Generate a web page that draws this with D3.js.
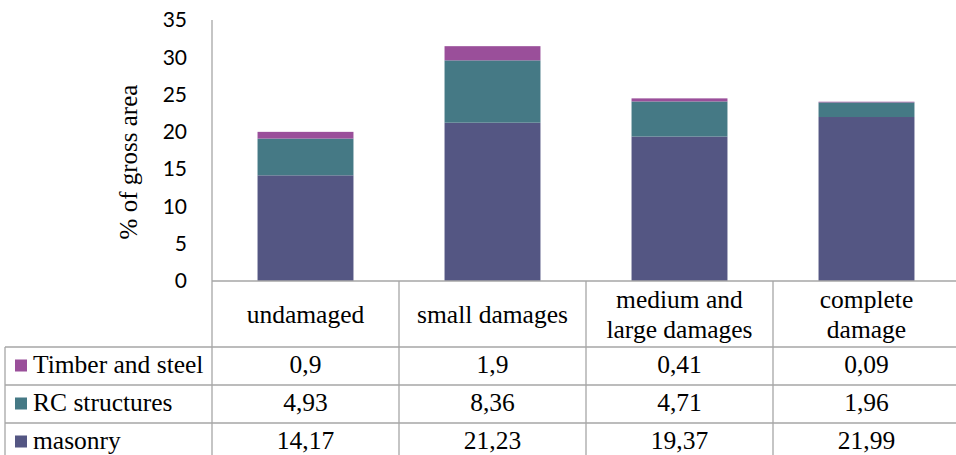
<!DOCTYPE html>
<html>
<head>
<meta charset="utf-8">
<script src="https://cdn.jsdelivr.net/npm/d3@7"></script>
<style>
  html, body { margin: 0; padding: 0; background: #fff; }
  svg { display: block; }
</style>
</head>
<body>
<svg id="chart" width="956" height="455"></svg>
<script>
// Share of gross area by damage level and structural type
const categories = ["undamaged", "small damages", "medium and large damages", "complete damage"];
const categoryLines = [["undamaged"], ["small damages"], ["medium and", "large damages"], ["complete", "damage"]];
const seriesNames = ["masonry", "RC structures", "Timber and steel"];
const masonry = [14.17, 21.23, 19.37, 21.99];
const rcStructures = [4.93, 8.36, 4.71, 1.96];
const timberSteel = [0.9, 1.9, 0.41, 0.09];
const tableLabels = [
  ["0,9", "1,9", "0,41", "0,09"],
  ["4,93", "8,36", "4,71", "1,96"],
  ["14,17", "21,23", "19,37", "21,99"]
];
const yTicks = [0, 5, 10, 15, 20, 25, 30, 35];
const colors = ["#545683", "#457985", "#9a4f9a"];

const svg = d3.select("#chart");
const plotLeft = 212, plotRight = 960, plotTop = 20, plotBase = 281;
const lineColor = "#a6a6a6";

const xCol = d3.scaleBand().domain(categories).range([plotLeft, plotRight]).padding(0);
const xBar = d3.scaleBand().domain(categories).range([plotLeft, plotRight])
  .paddingInner(0.487).paddingOuter(0.2435);
const y = d3.scaleLinear().domain([0, 35]).range([plotBase, plotTop]);

// stacked series
const rows = categories.map((c, i) => ({
  cat: c,
  "masonry": masonry[i],
  "RC structures": rcStructures[i],
  "Timber and steel": timberSteel[i]
}));
const stacked = d3.stack().keys(seriesNames)(rows);

svg.append("g").selectAll("g")
  .data(stacked)
  .join("g")
  .attr("fill", (d, i) => colors[i])
  .selectAll("rect")
  .data(d => d)
  .join("rect")
  .attr("x", d => xBar(d.data.cat))
  .attr("width", xBar.bandwidth())
  .attr("y", d => y(d[1]))
  .attr("height", d => y(d[0]) - y(d[1]));

// y axis
const yAxis = d3.axisLeft(y).tickValues(yTicks).tickSize(0).tickPadding(25);
const gy = svg.append("g").attr("transform", `translate(${plotLeft},0)`).call(yAxis);
gy.select(".domain").remove();
gy.selectAll("text")
  .attr("font-family", "Lato, 'Open Sans', sans-serif")
  .attr("font-size", 21)
  .attr("fill", "#000");

const serif = "'Liberation Serif', 'Times New Roman', serif";

svg.append("text")
  .attr("transform", `translate(137,162) rotate(-90)`)
  .attr("text-anchor", "middle")
  .attr("font-family", serif)
  .attr("font-size", 25)
  .attr("fill", "#000")
  .text("% of gross area");

// data table
const headerBottom = 347;
const rowH = 38;
const tableLeft = 5;
const tbl = svg.append("g").attr("stroke", lineColor).attr("stroke-width", 1.3).attr("fill", "none");

// axis line continues down as the table's first column border
tbl.append("line").attr("x1", plotLeft).attr("x2", plotLeft).attr("y1", plotTop).attr("y2", 455);
tbl.append("line").attr("x1", plotLeft).attr("x2", plotRight).attr("y1", plotBase).attr("y2", plotBase);
categories.slice(1).forEach(c => {
  tbl.append("line").attr("x1", xCol(c)).attr("x2", xCol(c)).attr("y1", plotBase).attr("y2", 455);
});
tbl.append("line").attr("x1", tableLeft).attr("x2", tableLeft).attr("y1", headerBottom).attr("y2", 455);
[0, 1, 2].forEach(r => {
  const yy = headerBottom + r * rowH;
  tbl.append("line").attr("x1", tableLeft).attr("x2", plotRight).attr("y1", yy).attr("y2", yy);
});

const fs = 25.5;

// header cells
categories.forEach((c, i) => {
  const lines = categoryLines[i];
  const cx = xCol(c) + xCol.bandwidth() / 2;
  const cy = (plotBase + headerBottom) / 2;
  const lh = 30;
  lines.forEach((t, k) => {
    svg.append("text")
      .attr("x", cx)
      .attr("y", cy + (k - (lines.length - 1) / 2) * lh)
      .attr("dy", "0.35em")
      .attr("text-anchor", "middle")
      .attr("font-family", serif)
      .attr("font-size", fs)
      .attr("fill", "#000")
      .text(t);
  });
});

// legend rows + values (top row is the top series)
const legendOrder = [2, 1, 0];
legendOrder.forEach((s, r) => {
  const cy = headerBottom + r * rowH + rowH / 2 - 1.5;
  svg.append("rect")
    .attr("x", 15).attr("y", cy - 5)
    .attr("width", 12).attr("height", 12)
    .attr("fill", colors[s]);
  svg.append("text")
    .attr("x", 33).attr("y", cy).attr("dy", "0.33em")
    .attr("font-family", serif).attr("font-size", fs).attr("fill", "#000")
    .text(seriesNames[s]);
  categories.forEach((c, i) => {
    svg.append("text")
      .attr("x", xCol(c) + xCol.bandwidth() / 2)
      .attr("y", cy).attr("dy", "0.33em")
      .attr("text-anchor", "middle")
      .attr("font-family", serif).attr("font-size", fs).attr("fill", "#000")
      .text(tableLabels[r][i]);
  });
});
</script>
</body>
</html>
